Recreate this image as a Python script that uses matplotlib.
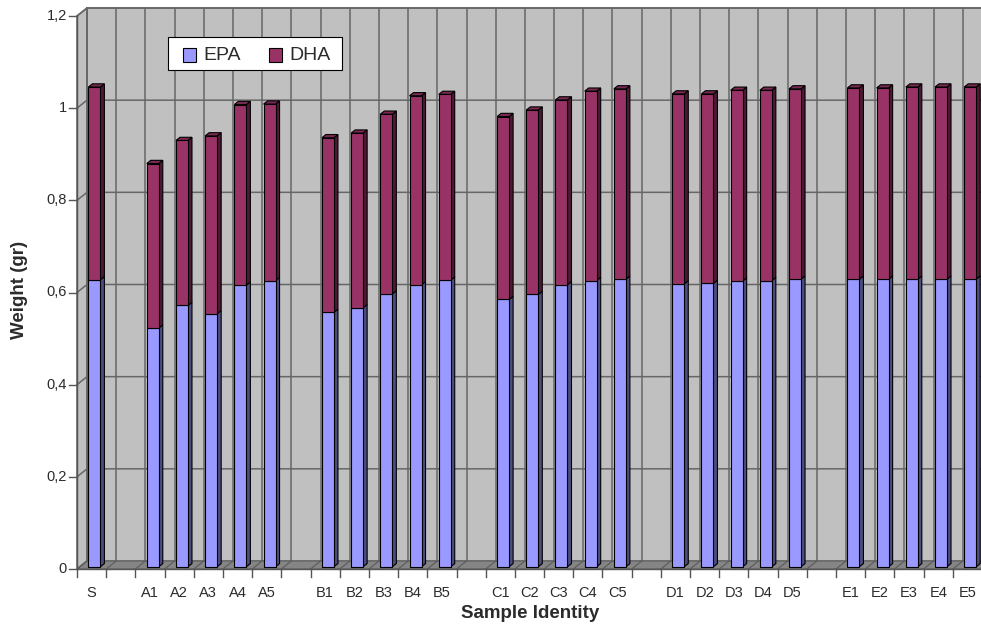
"""Stacked EPA/DHA weight per sample, Excel-style 3D columns."""

import numpy as np
import matplotlib
matplotlib.use("Agg")
import matplotlib.pyplot as plt
from matplotlib.patches import Polygon, Rectangle

plt.rcParams["font.family"] = ["Liberation Sans", "DejaVu Sans"]

categories = ["S", "", "A1", "A2", "A3", "A4", "A5", "", "B1", "B2", "B3", "B4", "B5",
              "", "C1", "C2", "C3", "C4", "C5", "", "D1", "D2", "D3", "D4", "D5",
              "", "E1", "E2", "E3", "E4", "E5"]
epa = [0.623, None, 0.518, 0.567, 0.549, 0.611, 0.621, None,
       0.552, 0.562, 0.592, 0.612, 0.622, None,
       0.580, 0.591, 0.612, 0.621, 0.624, None,
       0.614, 0.615, 0.620, 0.621, 0.624, None,
       0.624, 0.624, 0.624, 0.624, 0.624]
total = [1.041, None, 0.875, 0.925, 0.935, 1.003, 1.004, None,
         0.931, 0.941, 0.982, 1.022, 1.025, None,
         0.977, 0.991, 1.013, 1.032, 1.037, None,
         1.026, 1.026, 1.034, 1.034, 1.037, None,
         1.039, 1.039, 1.041, 1.041, 1.041]
dha = [None if t is None else t - e for t, e in zip(total, epa)]
yticks = [0, 0.2, 0.4, 0.6, 0.8, 1.0, 1.2]
ytick_labels = ["0", "0,2", "0,4", "0,6", "0,8", "1", "1,2"]
series = ["EPA", "DHA"]

W, H = 981, 628
fig = plt.figure(figsize=(W / 100, H / 100), dpi=100)
x0, x1, y0, y1 = 77, 982, 569, 16
ax = fig.add_axes([x0 / W, 1 - y0 / H, (x1 - x0) / W, (y0 - y1) / H])
n = len(categories)
ymax = 1.2
ax.set_xlim(0, n)
ax.set_ylim(0, ymax)
ax.axis("off")

# depth of the 3D box in data units
px_x = (x1 - x0) / n
px_y = (y0 - y1) / ymax
dx, dy = 10 / px_x, 8 / px_y

WALL, GRID, FLOOR = "#c0c0c0", "#666666", "#858585"
TXT = "#2b2b2b"

def poly(pts, fc, ec="black", lw=0.8, z=1):
    ax.add_patch(Polygon(pts, closed=True, fc=fc, ec=ec, lw=lw, zorder=z, clip_on=False))

# walls and floor
poly([(dx, dy), (n + dx, dy), (n + dx, ymax + dy), (dx, ymax + dy)], WALL, GRID, 1.1, 0)
poly([(0, 0), (dx, dy), (dx, ymax + dy), (0, ymax)], WALL, GRID, 1.1, 0)
poly([(0, 0), (n, 0), (n + dx, dy), (dx, dy)], FLOOR, GRID, 1.0, 0)
for v in yticks[1:]:
    ax.plot([0, dx, n + dx], [v, v + dy, v + dy], color=GRID, lw=1.1, zorder=0.5, clip_on=False)
for i in range(n + 1):
    ax.plot([i + dx, i + dx], [dy, ymax + dy], color=GRID, lw=1.1, zorder=0.5, clip_on=False)
    ax.plot([i, i + dx], [0, dy], color="#5a5a5a", lw=0.8, zorder=0.6, clip_on=False)

# front axes with ticks
tl_x, tl_y = 8 / px_x, 8 / px_y
ax.plot([0, 0], [0, ymax], color="#555555", lw=1.0, zorder=2, clip_on=False)
ax.plot([0, n], [0, 0], color="#555555", lw=1.0, zorder=2, clip_on=False)
for v, lab in zip(yticks, ytick_labels):
    ax.plot([-tl_x, 0], [v, v], color="#555555", lw=1.0, clip_on=False)
    ax.text(-tl_x - 2 / px_x, v, lab, ha="right", va="center", fontsize=10.5, color=TXT)
for i in range(n + 1):
    ax.plot([i, i], [0, -tl_y], color="#555555", lw=1.0, clip_on=False)
for i, lab in enumerate(categories):
    ax.text(i + 0.5, -24 / px_y, lab, ha="center", va="center", fontsize=10.5, color=TXT)

fig.text(530 / W, 1 - 614 / H, "Sample Identity", ha="center", va="center",
         fontsize=13.5, fontweight="bold", color=TXT)
fig.text(20 / W, 1 - 290 / H, "Weight (gr)", rotation=90, ha="center", va="center",
         fontsize=13.5, fontweight="bold", color=TXT)

# bars
EPA_F, EPA_S = "#9999ff", "#4d4d80"
DHA_F, DHA_S, DHA_T = "#993366", "#4d1a33", "#7a2952"
f1, f2 = 0.28, 0.68
w = 12 / px_x
bdx, bdy = (f2 - f1) * dx, (f2 - f1) * dy

def column(xl, ylo, yhi, face, side, top=None):
    xl, ylo, yhi = xl + f1 * dx, ylo + f1 * dy, yhi + f1 * dy
    xr = xl + w
    poly([(xr, ylo), (xr + bdx, ylo + bdy), (xr + bdx, yhi + bdy), (xr, yhi)], side, z=3)
    if top:
        poly([(xl, yhi), (xr, yhi), (xr + bdx, yhi + bdy), (xl + bdx, yhi + bdy)], top, z=3)
    ax.add_patch(Rectangle((xl, ylo), w, yhi - ylo, fc=face, ec="black", lw=0.8,
                           zorder=4, clip_on=False))

for i in range(n):
    if epa[i] is None:
        continue
    xl = i + 0.5 - w / 2
    column(xl, 0, epa[i], EPA_F, EPA_S)
    column(xl, epa[i], epa[i] + dha[i], DHA_F, DHA_S, DHA_T)

# legend box drawn in figure pixels
tf = fig.transFigure
def fpx(x, y):
    return x / W, 1 - y / H

fig.patches.append(Rectangle(fpx(168, 70), 174 / W, 33 / H, fc="white", ec="black",
                             lw=0.8, transform=tf, zorder=5))
for (px, lab, col) in zip([183, 269], series, [EPA_F, DHA_F]):
    fig.patches.append(Rectangle(fpx(px, 62), 13 / W, 14 / H, fc=col, ec="black",
                                 lw=0.8, transform=tf, zorder=6))
    fig.text(*fpx(px + 20, 55.5), lab, ha="left", va="center", fontsize=14, color=TXT,
             zorder=6)

fig.savefig("out.png", dpi=100)
